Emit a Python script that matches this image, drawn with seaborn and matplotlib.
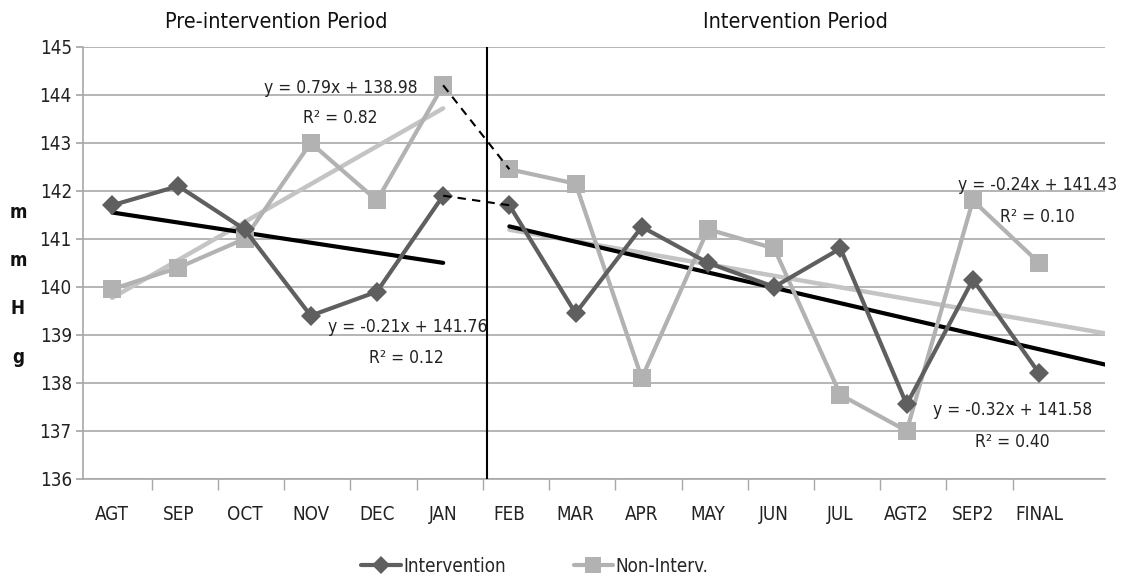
import numpy as np
import pandas as pd
import matplotlib
matplotlib.use("Agg")
import matplotlib.pyplot as plt
import seaborn as sns
from matplotlib.lines import Line2D
from matplotlib import font_manager

months = ["AGT", "SEP", "OCT", "NOV", "DEC", "JAN", "FEB", "MAR", "APR",
          "MAY", "JUN", "JUL", "AGT2", "SEP2", "FINAL"]
intervention = [141.7, 142.1, 141.2, 139.4, 139.9, 141.9,
                141.7, 139.45, 141.25, 140.5, 140.0, 140.8, 137.55, 140.15, 138.2]
non_interv = [139.95, 140.4, 141.0, 143.0, 141.8, 144.2,
              142.45, 142.15, 138.1, 141.2, 140.8, 137.75, 137.0, 141.8, 140.5]
yticks = [136, 137, 138, 139, 140, 141, 142, 143, 144, 145]
# trend lines (slope, intercept) for each period
pre_int_trend = (-0.21, 141.76)
pre_non_trend = (0.79, 138.98)
post_int_trend = (-0.32, 141.58)
post_non_trend = (-0.24, 141.43)

sns.set_theme(style="white")

# pick a condensed font if one is installed
fam, stretch = None, "normal"
entries = font_manager.fontManager.ttflist
for f in entries:
    if f.name in ("Liberation Sans Narrow", "Arial Narrow"):
        fam, stretch = f.name, "normal"
        break
if fam is None:
    for f in entries:
        if f.name == "DejaVu Sans" and str(f.stretch) in ("condensed", "semi-condensed") \
                and f.style == "normal":
            fam, stretch = "DejaVu Sans", "condensed"
            break
if fam is None:
    for f in entries:
        if ("Condensed" in f.name or "Narrow" in f.name) and f.style == "normal":
            fam, stretch = f.name, "normal"
            break
if fam is None:
    fam = "Liberation Sans"
plt.rcParams['font.family'] = [fam, 'DejaVu Sans']
plt.rcParams['font.stretch'] = stretch
condensed = fam != "Liberation Sans"
S = 1.0 if condensed else 0.9

DARK = "#5f5f5f"
LIGHT = "#b2b2b2"
TLIGHT = "#c4c4c4"
TXT = "#222222"

fig = plt.figure(figsize=(11.21, 5.79), dpi=100)
ax = fig.add_axes([0.074, 0.173, 0.912, 0.746])

n_pre = 6
idx = np.arange(len(months))
df = pd.DataFrame({"x": idx, "month": months, "Intervention": intervention,
                   "Non-Interv.": non_interv})
df["period"] = np.where(idx < n_pre, "pre", "post")

for yv in yticks:
    ax.axhline(yv, color="#a8a8a8", lw=1.2, zorder=0)

for per in ["pre", "post"]:
    sub = df[df.period == per]
    sns.lineplot(data=sub, x="x", y="Non-Interv.", ax=ax, color=LIGHT, lw=3,
                 marker="s", markersize=13, markeredgewidth=0, zorder=3)
    sns.lineplot(data=sub, x="x", y="Intervention", ax=ax, color=DARK, lw=3,
                 marker="D", markersize=10, markeredgewidth=0, zorder=4)

for ser in [intervention, non_interv]:
    ax.plot([n_pre - 1, n_pre], [ser[n_pre - 1], ser[n_pre]], color="black",
            lw=1.5, ls=(0, (4, 3)), zorder=5)

xp = np.array([1, 6])
xq = np.array([1, 10])
ax.plot(xp - 1, pre_non_trend[0] * xp + pre_non_trend[1], color=TLIGHT, lw=3.2, zorder=2)
ax.plot(xp - 1, pre_int_trend[0] * xp + pre_int_trend[1], color="black", lw=3, zorder=2)
ax.plot(xq - 1 + n_pre, post_non_trend[0] * xq + post_non_trend[1], color=TLIGHT, lw=3.2, zorder=2)
ax.plot(xq - 1 + n_pre, post_int_trend[0] * xq + post_int_trend[1], color="black", lw=3, zorder=2)

ax.axvline(5.66, color="black", lw=1.5, zorder=6)

ax.set_xlim(-0.44, 15.0)
ax.set_ylim(136, 145)
ax.set_yticks(yticks)
ax.set_yticklabels([str(v) for v in yticks], fontsize=13.5 * S, color=TXT)
ax.set_xticks(idx)
ax.set_xticklabels(months, fontsize=13.5 * S, color=TXT)
ax.tick_params(axis="x", length=0, pad=19)
ax.tick_params(axis="y", length=5, color="#a8a8a8", left=True, pad=3)
ax.set_xticks(np.arange(0, 14) + 0.6, minor=True)
ax.tick_params(axis="x", which="minor", length=8, color="#a8a8a8", bottom=True)
for s in ["top", "right"]:
    ax.spines[s].set_visible(False)
for s in ["left", "bottom"]:
    ax.spines[s].set_color("#a8a8a8")
    ax.spines[s].set_linewidth(1.2)
ax.set_xlabel("")
ax.set_ylabel("")

tk = dict(fontsize=12.5 * S, color=TXT, ha="center", va="center", zorder=7)
ax.text(3.45, 144.15, "y = 0.79x + 138.98", **tk)
ax.text(3.45, 143.52, "R² = 0.82", **tk)
ax.text(4.46, 139.17, "y = -0.21x + 141.76", **tk)
ax.text(4.45, 138.52, "R² = 0.12", **tk)
ax.text(13.97, 142.12, "y = -0.24x + 141.43", **tk)
ax.text(13.97, 141.46, "R² = 0.10", **tk)
ax.text(13.6, 137.44, "y = -0.32x + 141.58", **tk)
ax.text(13.6, 136.77, "R² = 0.40", **tk)

fig.text(276 / 1121, 1 - 22 / 579, "Pre-intervention Period", fontsize=15.5 * S,
         ha="center", va="center", color="#111111")
fig.text(795 / 1121, 1 - 22 / 579, "Intervention Period", fontsize=15.5 * S,
         ha="center", va="center", color="#111111")

for i, ch in enumerate("mmHg"):
    fig.text(18 / 1121, 1 - (212 + i * 48.5) / 579, ch, fontsize=13.5 * S,
             fontweight="bold", ha="center", va="center", color="#111111")

handles = [Line2D([0], [0], color=DARK, lw=3, marker="D", markersize=9, markeredgewidth=0),
           Line2D([0], [0], color=LIGHT, lw=3, marker="s", markersize=11, markeredgewidth=0)]
fig.legend(handles, ["Intervention", "Non-Interv."], loc="center",
           bbox_to_anchor=(535 / 1121, 1 - 566 / 579), ncol=2, frameon=False,
           fontsize=13.5 * S, handlelength=2.1, handletextpad=0.15, columnspacing=3.6)

fig.savefig("out.png", dpi=100)
